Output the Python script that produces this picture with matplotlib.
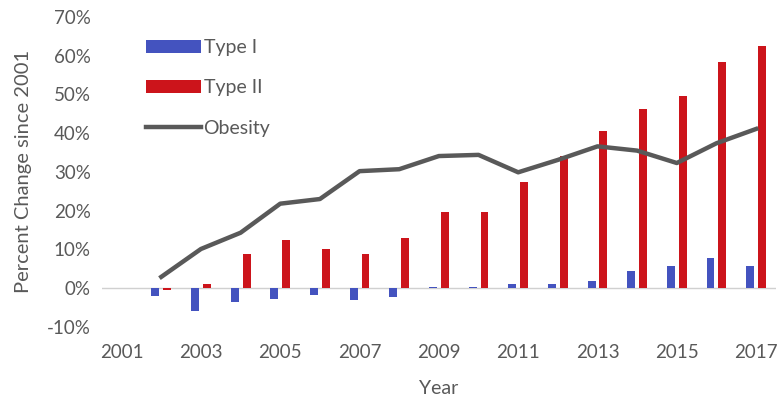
import numpy as np
import matplotlib.pyplot as plt

years = list(range(2001, 2018))
bar_years = list(range(2002, 2018))
type1 = [-2.1, -5.9, -3.7, -2.7, -1.7, -3.0, -2.3, 0.35, 0.35, 1.0, 1.0, 1.9, 4.3, 5.7, 7.8, 5.7]
type2 = [-0.6, 1.0, 8.8, 12.5, 10.1, 8.8, 13.0, 19.7, 19.7, 27.5, 34.1, 40.6, 46.2, 49.7, 58.5, 62.4]
obesity = [2.9, 10.1, 14.3, 21.8, 23.0, 30.2, 30.7, 34.1, 34.4, 29.9, 33.1, 36.6, 35.5, 32.3, 37.4, 41.1]
tick_years = years[::2]

BLUE = '#4453BF'
RED = '#CC141B'
GRAY = '#595959'

plt.rcParams['font.family'] = ['Lato', 'DejaVu Sans']

fig = plt.figure(figsize=(7.83, 4.05), dpi=100)
ax = fig.add_axes([0.130, 0.193, 0.861, 0.765])

x = np.array(bar_years)
b1 = ax.bar(x - 0.15, type1, width=0.2, color=BLUE, label='Type I', zorder=2)
b2 = ax.bar(x + 0.15, type2, width=0.2, color=RED, label='Type II', zorder=2)
ln, = ax.plot(bar_years, obesity, color=GRAY, linewidth=3.2, label='Obesity', zorder=3)

ax.axhline(0, color='#D0D0D0', linewidth=1, zorder=1)

ax.set_xlim(2000.5, 2017.5)
ax.set_ylim(-10, 70)
ax.set_yticks(range(-10, 71, 10))
ax.set_yticklabels([f'{v}%' for v in range(-10, 71, 10)])
ax.set_xticks(tick_years)
ax.set_xticklabels([str(y) for y in tick_years])

for s in ax.spines.values():
    s.set_visible(False)
ax.tick_params(length=0, labelsize=13.5, colors=GRAY, pad=8)
ax.tick_params(axis='x', pad=12)

ax.set_xlabel('Year', fontsize=14, color=GRAY, labelpad=14)
ax.set_ylabel('Percent Change since 2001', fontsize=14.5, color=GRAY, labelpad=11)

ax.legend(handles=[b1, b2, ln], loc='upper left', bbox_to_anchor=(0.04, 0.985),
          frameon=False, fontsize=14, labelcolor=GRAY, handlelength=2.8,
          labelspacing=1.2, handletextpad=0.15)

fig.savefig('out.png', dpi=100)
